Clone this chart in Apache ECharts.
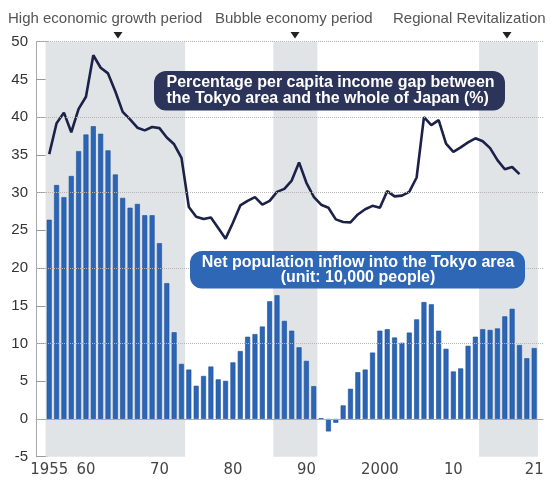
<!DOCTYPE html>
<html>
<head>
<meta charset="utf-8">
<script src="https://cdn.jsdelivr.net/npm/echarts@6/dist/echarts.min.js"></script>
<style>
html,body{margin:0;padding:0;background:#fff;}
#c{width:550px;height:482px;}
</style>
</head>
<body>
<div id="c"></div>
<script>
// ---- data ----
var barYears = [];
for (var y = 1955; y <= 2021; y++) barYears.push(y);
var inflow = [26.4,31.0,29.4,32.2,35.5,37.7,38.8,37.8,35.6,32.4,
  29.3,28.0,28.5,27.0,27.0,23.3,18.0,11.5,7.3,6.55,
  4.4,5.7,6.95,5.25,5.05,7.5,9.0,10.9,11.25,12.25,
  15.6,16.4,13.0,11.7,9.5,7.7,4.35,0.1,-1.65,-0.5,
  1.8,4.0,6.2,6.55,8.8,11.7,11.9,10.8,10.1,11.45,
  13.2,15.5,15.2,11.7,9.3,6.3,6.7,9.7,10.9,11.9,
  11.8,12.0,13.6,14.6,9.8,8.05,9.4];
var gapYears = [];
for (var g = 1955; g <= 2019; g++) gapYears.push(g);
var incomeGap = [35.1,39.2,40.6,38.0,41.1,42.7,48.2,46.55,45.8,43.4,
  40.7,39.7,38.6,38.25,38.7,38.55,37.3,36.4,34.6,28.1,
  26.8,26.5,26.7,25.3,23.9,26.0,28.3,28.9,29.4,28.4,
  28.9,30.1,30.5,31.6,34.0,31.3,29.45,28.4,28.0,26.45,
  26.1,26.05,27.1,27.8,28.25,28.0,30.2,29.5,29.6,30.1,
  32.0,40.0,38.95,39.6,36.5,35.4,36.0,36.65,37.2,36.8,
  35.9,34.3,33.1,33.4,32.45];
var xTickValues = [1955,1960,1970,1980,1990,2000,2010,2021];
var xTickLabels = ['1955','60','70','80','90','2000','10','21'];
var periods = [
  {name:'High economic growth period', from:1954.5, to:1973.5},
  {name:'Bubble economy period', from:1985.5, to:1991.5},
  {name:'Regional Revitalization', from:2013.5, to:2021.5}
];
var gridValues = [10,20,30,40,50];
var labelInflow = 'Net population inflow into the Tokyo area\n(unit: 10,000 people)';
var labelGap = 'Percentage per capita income gap between\nthe Tokyo area and the whole of Japan (%)';

// ---- chart ----
var FONT = "'Liberation Sans', Arial, Helvetica, sans-serif";
var chart = echarts.init(document.getElementById('c'), null, {renderer:'canvas'});

var barData = barYears.map(function(yr,i){return [yr, inflow[i]];});
var lineData = gapYears.map(function(yr,i){return [yr, incomeGap[i]];});

var option = {
  animation:false,
  backgroundColor:'#fff',
  grid:{left:36, right:7, top:41.7, bottom:25.3, containLabel:false},
  xAxis:{
    type:'value', min:1953.2, max:2022.2,
    splitLine:{show:false},
    axisLine:{show:true, lineStyle:{color:'#a8a8a8', width:1}},
    axisTick:{show:true, inside:true, length:7, customValues:xTickValues, lineStyle:{color:'#999'}},
    axisLabel:{
      customValues:xTickValues, margin:5,
      fontFamily:"'Liberation Sans Narrow', 'DejaVu Sans Condensed', Arial, sans-serif",
      fontSize:16.5, color:'#444',
      formatter:function(v){var i=xTickValues.indexOf(Math.round(v));return i>=0?xTickLabels[i]:'';}
    }
  },
  yAxis:{
    type:'value', min:-5, max:50, interval:5,
    splitLine:{show:false},
    axisLine:{show:true, lineStyle:{color:'#a8a8a8', width:1}},
    axisTick:{show:true, inside:true, length:12, lineStyle:{color:'#999'}},
    axisLabel:{margin:8, fontFamily:FONT, fontSize:15, color:'#333'}
  },
  series:[
    {
      type:'line', data:[], z:0, silent:true,
      markArea:{
        silent:true,
        itemStyle:{color:'#e1e4e6'},
        data:periods.map(function(p){return [{xAxis:p.from, yAxis:-5},{xAxis:p.to, yAxis:50}];})
      }
    },
    {
      type:'line', data:[], z:1, silent:true,
      markLine:{
        silent:true, symbol:'none', label:{show:false},
        data:gridValues.map(function(v){return {yAxis:v, lineStyle:{type:'dotted', color:'#b5b5b5', width:1}};})
          .concat([{yAxis:0, lineStyle:{type:'solid', color:'#aaa', width:1}}])
      }
    },
    {
      type:'bar', data:barData, barWidth:5, z:2,
      itemStyle:{color:'#2b65b6', borderColor:'#1f4f99', borderWidth:0.6}
    },
    {
      type:'line', data:lineData, z:3, symbol:'none', smooth:false,
      lineStyle:{color:'#1b2148', width:2.6}
    }
  ],
  graphic:[
    {type:'text', x:8, y:19, style:{text:periods[0].name, font:'15px '+FONT, fill:'#555', align:'left', verticalAlign:'middle'}},
    {type:'text', x:215, y:19, style:{text:periods[1].name, font:'15px '+FONT, fill:'#555', align:'left', verticalAlign:'middle'}},
    {type:'text', x:393, y:19, style:{text:periods[2].name, font:'15px '+FONT, fill:'#555', align:'left', verticalAlign:'middle'}},
    {type:'polygon', shape:{points:[[113.5,32],[122.5,32],[118,38.5]]}, style:{fill:'#222'}},
    {type:'polygon', shape:{points:[[290.5,32],[299.5,32],[295,38.5]]}, style:{fill:'#222'}},
    {type:'polygon', shape:{points:[[502.5,32],[511.5,32],[507,38.5]]}, style:{fill:'#222'}},
    {type:'rect', z:10, shape:{x:154, y:71, width:351, height:39.5, r:12}, style:{fill:'#2c3559'}},
    {type:'text', z:11, x:166.5, y:90.5, style:{text:labelGap, font:'bold 16px '+FONT, fill:'#fff', align:'left', verticalAlign:'middle', lineHeight:15.6}},
    {type:'rect', z:10, shape:{x:190, y:251, width:335, height:37.5, r:12}, style:{fill:'#2d67b6'}},
    {type:'text', z:11, x:358, y:270, style:{text:labelInflow, font:'bold 16px '+FONT, fill:'#fff', align:'center', verticalAlign:'middle', lineHeight:15.6}}
  ]
};
chart.setOption(option);
</script>
</body>
</html>
